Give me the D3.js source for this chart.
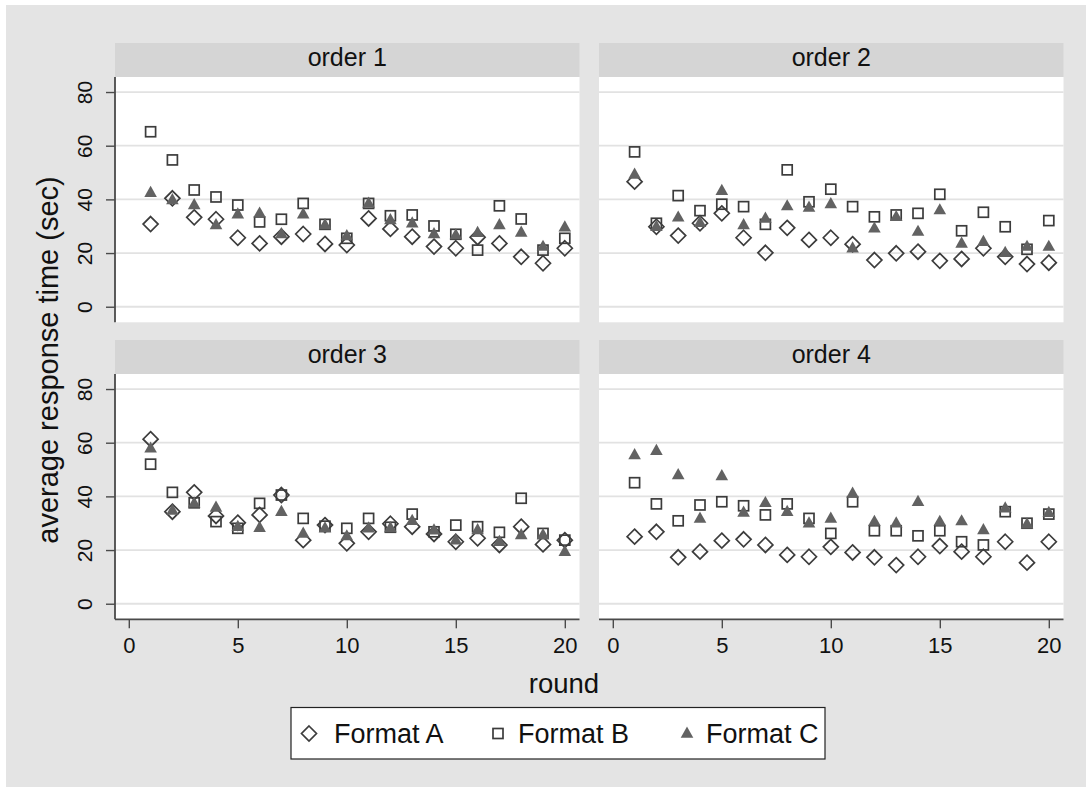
<!DOCTYPE html>
<html>
<head>
<meta charset="utf-8">
<script src="https://cdn.jsdelivr.net/npm/d3@7"></script>
<style>
  html, body { margin: 0; padding: 0; background: #ffffff; }
  svg { display: block; font-family: "Liberation Sans", Arial, Helvetica, sans-serif; }
</style>
</head>
<body>
<svg id="chart" width="1092" height="792"></svg>
<script>
// Rounds on the x axis
const rounds = [1, 2, 3, 4, 5, 6, 7, 8, 9, 10, 11, 12, 13, 14, 15, 16, 17, 18, 19, 20];
const xTicks = [0, 5, 10, 15, 20];
const yTicks = [0, 20, 40, 60, 80];
const panels = ["order 1", "order 2", "order 3", "order 4"];
const formats = ["Format A", "Format B", "Format C"];

// Average response time (sec) per round, by order and format
const order1A = [30.8, 40.4, 33.3, 32.6, 25.7, 23.6, 26.1, 27.1, 23.4, 23.0, 32.9, 29.0, 26.1, 22.4, 21.8, 25.9, 23.6, 18.6, 16.2, 21.8];
const order1B = [65.2, 54.7, 43.5, 40.9, 37.9, 31.6, 32.6, 38.5, 30.7, 25.5, 38.5, 33.9, 34.2, 30.1, 27.0, 21.1, 37.6, 32.7, 21.1, 25.5];
const order1C = [42.5, 39.8, 37.9, 30.5, 34.5, 34.8, 27.1, 34.5, 30.5, 26.4, 38.5, 32.3, 31.1, 27.1, 26.7, 27.6, 30.5, 27.7, 22.4, 29.6];

const order2A = [46.6, 29.8, 26.5, 31.1, 34.8, 25.7, 20.1, 29.4, 24.9, 25.7, 23.3, 17.4, 19.9, 20.5, 17.1, 17.8, 21.8, 18.6, 15.9, 16.4];
const order2B = [57.7, 31.1, 41.4, 35.8, 38.2, 37.3, 30.7, 51.0, 39.1, 43.8, 37.3, 33.5, 34.2, 34.8, 41.9, 28.3, 35.2, 29.8, 21.4, 32.1];
const order2C = [49.3, 29.8, 33.3, 31.3, 43.2, 30.5, 32.9, 37.5, 37.0, 38.3, 21.8, 29.2, 33.5, 28.0, 36.0, 23.6, 24.2, 20.1, 22.4, 22.4];

const order3A = [61.3, 34.3, 41.5, 32.7, 30.2, 33.1, 40.5, 23.7, 29.3, 22.5, 26.8, 29.8, 28.7, 26.0, 23.1, 24.4, 21.9, 28.7, 22.1, 23.7];
const order3B = [52.0, 41.5, 37.6, 30.6, 28.1, 37.4, 40.5, 31.8, 28.9, 28.1, 31.8, 28.5, 33.4, 26.8, 29.3, 28.7, 26.6, 39.3, 26.2, 23.7];
const order3C = [57.9, 34.7, 37.4, 35.9, 28.7, 28.3, 34.3, 26.2, 28.1, 25.2, 28.1, 28.2, 30.9, 27.4, 23.7, 27.5, 23.1, 25.6, 25.6, 19.4];

const order4A = [25.0, 26.8, 17.3, 19.4, 23.5, 24.0, 21.9, 18.2, 17.5, 21.2, 19.1, 17.3, 14.4, 17.5, 21.5, 19.4, 17.5, 23.1, 15.3, 23.1];
const order4B = [45.1, 37.2, 30.9, 36.8, 38.0, 36.5, 33.1, 37.2, 31.8, 26.2, 38.0, 27.2, 27.2, 25.3, 27.2, 23.1, 21.9, 34.3, 30.0, 33.4];
const order4C = [55.4, 57.0, 48.0, 31.8, 47.6, 34.0, 37.6, 34.3, 30.0, 31.8, 41.1, 30.6, 30.0, 38.0, 30.6, 30.8, 27.5, 35.6, 29.6, 33.9];

const panelSeries = [
  [order1A, order1B, order1C],
  [order2A, order2B, order2C],
  [order3A, order3B, order3C],
  [order4A, order4B, order4C]
];

// ---- layout ----
const plotW = 464.5, plotH = 245.3, stripH = 34;
const colX = [115, 599];
const rowY = [77, 374];
const colors = {
  outer: "#e4e4e4", strip: "#d5d5d5", grid: "#e2e2e2",
  axis: "#4a4a4a", text: "#111111", hollow: "#3c3c3c", filled: "#626262"
};

const svg = d3.select("#chart");

svg.append("rect")
  .attr("x", 6).attr("y", 5).attr("width", 1080).attr("height", 782)
  .attr("fill", colors.outer);

const x = d3.scaleLinear().domain([-0.633, 20.674]).range([0, plotW]);
const y = d3.scaleLinear().domain([-5.8, 85.6]).range([plotH, 0]);

// marker drawers: 0 hollow diamond, 1 hollow square, 2 filled triangle
function drawMarker(sel, kind) {
  if (kind === 0) {
    const r = 7.5;
    sel.append("path")
      .attr("d", `M0,${-r}L${r},0L0,${r}L${-r},0Z`)
      .attr("fill", "none").attr("stroke", colors.hollow).attr("stroke-width", 1.7);
  } else if (kind === 1) {
    const s = 10;
    sel.append("rect")
      .attr("x", -s / 2).attr("y", -s / 2).attr("width", s).attr("height", s)
      .attr("fill", "none").attr("stroke", colors.hollow).attr("stroke-width", 1.7);
  } else {
    const hw = 6.3, h = 11.2;
    sel.append("path")
      .attr("d", `M0,${-h * 0.62}L${hw},${h * 0.38}L${-hw},${h * 0.38}Z`)
      .attr("fill", colors.filled);
  }
}

panels.forEach((name, i) => {
  const col = i % 2, row = Math.floor(i / 2);
  const g = svg.append("g").attr("transform", `translate(${colX[col]},${rowY[row]})`);

  // strip
  g.append("rect")
    .attr("x", 0).attr("y", -stripH).attr("width", plotW).attr("height", stripH)
    .attr("fill", colors.strip);
  g.append("text")
    .attr("x", plotW / 2).attr("y", -11)
    .attr("text-anchor", "middle")
    .attr("font-size", 25).attr("fill", colors.text)
    .text(name);

  // plot area
  g.append("rect")
    .attr("width", plotW).attr("height", plotH).attr("fill", "#ffffff");

  // horizontal grid
  g.append("g").selectAll("line").data(yTicks).join("line")
    .attr("x1", 0).attr("x2", plotW)
    .attr("y1", d => y(d)).attr("y2", d => y(d))
    .attr("stroke", colors.grid).attr("stroke-width", 1.8);

  // markers: A, B, then C on top
  panelSeries[i].forEach((vals, k) => {
    const mg = g.append("g");
    rounds.forEach((r, j) => {
      const m = mg.append("g").attr("transform", `translate(${x(r)},${y(vals[j])})`);
      drawMarker(m, k);
    });
  });

  // y axis on the left column
  if (col === 0) {
    const ay = g.append("g")
      .call(d3.axisLeft(y).tickValues(yTicks).tickSize(9).tickPadding(13).tickFormat(d3.format("d")));
    ay.select(".domain").attr("d", `M0,0V${plotH}`).attr("stroke", colors.axis).attr("stroke-width", 1.8);
    ay.selectAll(".tick line").attr("stroke", colors.axis).attr("stroke-width", 1.4);
    ay.selectAll(".tick text")
      .attr("font-size", 21).attr("fill", colors.text)
      .attr("font-family", "Liberation Sans, Arial, sans-serif")
      .attr("x", null).attr("dy", null)
      .attr("text-anchor", "middle")
      .attr("transform", "translate(-22.7,0) rotate(-90)");
  }

  // x axis on the bottom row
  if (row === 1) {
    const ax = g.append("g").attr("transform", `translate(0,${plotH})`)
      .call(d3.axisBottom(x).tickValues(xTicks).tickSize(9).tickPadding(9).tickFormat(d3.format("d")));
    ax.select(".domain").attr("d", `M0,0H${plotW}`).attr("stroke", colors.axis).attr("stroke-width", 1.8);
    ax.selectAll(".tick line").attr("stroke", colors.axis).attr("stroke-width", 1.4);
    ax.selectAll(".tick text")
      .attr("font-size", 22).attr("fill", colors.text)
      .attr("font-family", "Liberation Sans, Arial, sans-serif")
      .attr("dy", null).attr("y", 34);
  }
});

// axis titles
svg.append("text")
  .attr("transform", `translate(58,360) rotate(-90)`)
  .attr("text-anchor", "middle").attr("font-size", 29).attr("fill", colors.text)
  .text("average response time (sec)");

svg.append("text")
  .attr("x", 564).attr("y", 692.5)
  .attr("text-anchor", "middle").attr("font-size", 27.5).attr("fill", colors.text)
  .text("round");

// legend
const legend = svg.append("g");
legend.append("rect")
  .attr("x", 291).attr("y", 707.5).attr("width", 534).attr("height", 51.5)
  .attr("fill", "#ffffff").attr("stroke", "#222222").attr("stroke-width", 1.2);
const legendPos = [{ mx: 309, tx: 334 }, { mx: 498, tx: 518 }, { mx: 687, tx: 706 }];
formats.forEach((f, k) => {
  const m = legend.append("g").attr("transform", `translate(${legendPos[k].mx},733.5)`);
  drawMarker(m, k);
  legend.append("text")
    .attr("x", legendPos[k].tx).attr("y", 743)
    .attr("font-size", 27).attr("fill", colors.text)
    .text(f);
});
</script>
</body>
</html>
